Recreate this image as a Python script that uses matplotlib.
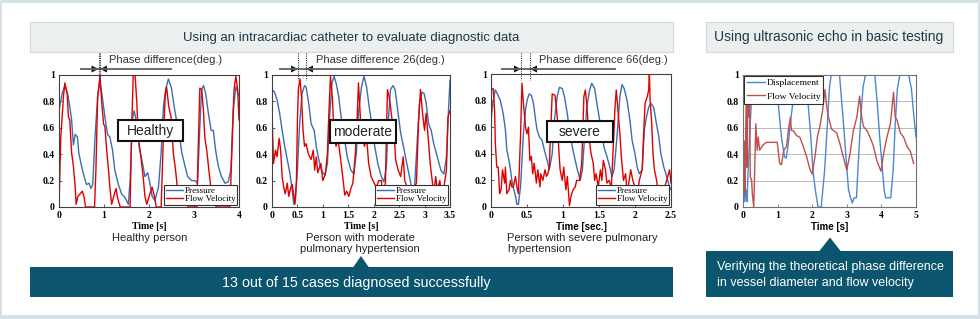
import matplotlib
matplotlib.use('Agg')
import matplotlib.pyplot as plt
from matplotlib.patches import Rectangle, Polygon
from matplotlib.lines import Line2D

W, H = 980, 319

# (time, normalised value)
HEALTHY_PRESSURE = [
    (0.00, 0.73), (0.07, 0.86), (0.13, 0.92), (0.19, 0.86), (0.24, 0.76), (0.28, 0.66),
    (0.32, 0.47), (0.36, 0.55), (0.41, 0.53), (0.44, 0.41), (0.50, 0.31), (0.56, 0.23),
    (0.61, 0.17), (0.67, 0.18), (0.71, 0.14), (0.75, 0.17), (0.80, 0.53), (0.86, 0.84),
    (0.91, 0.95), (0.96, 0.84), (1.02, 0.68), (1.08, 0.55), (1.13, 0.53), (1.19, 0.43),
    (1.24, 0.28), (1.32, 0.17), (1.39, 0.10), (1.47, 0.07), (1.54, 0.02), (1.58, 0.20),
    (1.63, 0.66), (1.67, 0.73), (1.73, 0.63), (1.78, 0.46), (1.84, 0.36), (1.91, 0.23),
    (1.97, 0.26), (2.02, 0.18), (2.07, 0.08), (2.13, 0.05), (2.21, 0.15), (2.27, 0.41),
    (2.32, 0.76), (2.37, 0.89), (2.43, 0.97), (2.50, 0.90), (2.56, 0.76), (2.61, 0.66),
    (2.67, 0.56), (2.73, 0.41), (2.80, 0.31), (2.86, 0.23), (2.95, 0.20), (3.02, 0.20),
    (3.08, 0.18), (3.13, 0.61), (3.17, 0.89), (3.21, 0.92), (3.26, 0.86), (3.32, 0.71),
    (3.38, 0.58), (3.43, 0.58), (3.48, 0.43), (3.54, 0.31), (3.61, 0.23), (3.69, 0.18),
    (3.76, 0.19), (3.82, 0.28), (3.87, 0.73), (3.93, 0.91), (4.00, 0.84),
]
HEALTHY_FLOW = [
    (0.00, 0.00), (0.04, 0.53), (0.10, 0.84), (0.13, 0.94), (0.18, 0.86), (0.21, 0.68),
    (0.24, 0.66), (0.28, 0.41), (0.32, 0.31), (0.36, 0.15), (0.38, 0.02), (0.42, 0.08),
    (0.47, 0.10), (0.52, 0.12), (0.56, 0.07), (0.59, 0.00), (0.79, 0.00), (0.82, 0.28),
    (0.86, 0.84), (0.91, 0.99), (0.95, 0.79), (0.99, 0.63), (1.02, 0.61), (1.06, 0.43),
    (1.10, 0.28), (1.13, 0.15), (1.17, 0.02), (1.23, 0.10), (1.27, 0.14), (1.30, 0.07),
    (1.36, 0.00), (1.58, 0.00), (1.62, 0.66), (1.65, 1.00), (1.69, 1.00), (1.73, 0.79),
    (1.76, 0.53), (1.82, 0.38), (1.87, 0.23), (1.91, 0.08), (1.95, 0.02), (2.02, 0.10),
    (2.07, 0.15), (2.12, 0.08), (2.16, 0.00), (2.27, 0.00), (2.32, 0.53), (2.36, 0.84),
    (2.39, 0.91), (2.44, 0.76), (2.49, 0.68), (2.54, 0.41), (2.59, 0.28), (2.65, 0.08),
    (2.69, 0.02), (2.76, 0.04), (2.82, 0.08), (2.87, 0.00), (3.06, 0.00), (3.10, 0.53),
    (3.13, 0.90), (3.17, 0.89), (3.21, 0.73), (3.24, 0.53), (3.29, 0.41), (3.33, 0.28),
    (3.39, 0.10), (3.45, 0.03), (3.50, 0.00), (3.80, 0.00), (3.84, 0.41), (3.89, 0.89),
    (3.93, 0.99), (3.97, 0.89), (4.00, 0.66),
]
MODERATE_PRESSURE = [
    (0.00, 0.89), (0.05, 0.87), (0.10, 0.81), (0.15, 0.71), (0.20, 0.58), (0.25, 0.46),
    (0.30, 0.36), (0.35, 0.26), (0.39, 0.15), (0.43, 0.02), (0.46, 0.05), (0.50, 0.28),
    (0.54, 0.61), (0.59, 0.86), (0.64, 0.92), (0.67, 0.91), (0.72, 0.79), (0.77, 0.63),
    (0.83, 0.58), (0.87, 0.46), (0.92, 0.36), (0.97, 0.28), (1.04, 0.24), (1.09, 0.33),
    (1.13, 0.66), (1.18, 0.94), (1.22, 0.99), (1.26, 0.94), (1.31, 0.84), (1.36, 0.68),
    (1.42, 0.53), (1.48, 0.38), (1.55, 0.28), (1.61, 0.25), (1.66, 0.41), (1.70, 0.71),
    (1.76, 0.91), (1.81, 0.99), (1.86, 0.91), (1.91, 0.76), (1.97, 0.61), (2.02, 0.46),
    (2.08, 0.33), (2.15, 0.23), (2.20, 0.19), (2.25, 0.31), (2.28, 0.61), (2.33, 0.89),
    (2.38, 0.92), (2.42, 0.89), (2.48, 0.71), (2.53, 0.56), (2.60, 0.43), (2.66, 0.31),
    (2.73, 0.18), (2.77, 0.03), (2.80, 0.13), (2.86, 0.53), (2.90, 0.79), (2.95, 0.87),
    (2.99, 0.86), (3.03, 0.79), (3.08, 0.63), (3.13, 0.58), (3.18, 0.48), (3.25, 0.38),
    (3.32, 0.28), (3.38, 0.25), (3.43, 0.38), (3.47, 0.73), (3.50, 0.96),
]
MODERATE_FLOW = [
    (0.00, 0.71), (0.03, 0.33), (0.07, 0.43), (0.10, 0.38), (0.14, 0.52), (0.17, 0.43),
    (0.20, 0.23), (0.23, 0.15), (0.26, 0.10), (0.30, 0.18), (0.33, 0.08), (0.37, 0.15),
    (0.40, 0.17), (0.45, 0.02), (0.48, 0.20), (0.50, 0.66), (0.52, 0.90), (0.55, 0.97),
    (0.58, 0.84), (0.61, 0.58), (0.64, 0.46), (0.67, 0.48), (0.71, 0.41), (0.74, 0.38),
    (0.77, 0.36), (0.81, 0.43), (0.84, 0.28), (0.87, 0.38), (0.90, 0.26), (0.96, 0.33),
    (1.00, 0.20), (1.05, 0.25), (1.09, 0.41), (1.12, 0.73), (1.15, 0.99), (1.19, 0.81),
    (1.22, 0.53), (1.26, 0.46), (1.30, 0.51), (1.35, 0.36), (1.40, 0.20), (1.43, 0.09),
    (1.47, 0.12), (1.51, 0.08), (1.55, 0.14), (1.59, 0.18), (1.64, 0.41), (1.68, 0.73),
    (1.70, 0.94), (1.74, 0.66), (1.78, 0.53), (1.82, 0.46), (1.86, 0.53), (1.90, 0.33),
    (1.95, 0.23), (2.01, 0.18), (2.05, 0.15), (2.10, 0.20), (2.15, 0.20), (2.18, 0.08),
    (2.23, 0.18), (2.27, 0.89), (2.30, 0.84), (2.33, 0.76), (2.37, 0.63), (2.40, 0.58),
    (2.43, 0.36), (2.48, 0.28), (2.53, 0.23), (2.58, 0.38), (2.61, 0.20), (2.66, 0.15),
    (2.71, 0.10), (2.84, 0.18), (2.88, 0.63), (2.92, 0.89), (2.96, 0.71), (3.00, 0.58),
    (3.03, 0.71), (3.07, 0.53), (3.11, 0.33), (3.15, 0.20), (3.18, 0.10), (3.22, 0.23),
    (3.25, 0.13), (3.30, 0.20), (3.33, 0.10), (3.38, 0.15), (3.43, 0.28), (3.46, 0.68),
    (3.50, 0.73),
]
SEVERE_PRESSURE = [
    (0.00, 0.65), (0.03, 0.80), (0.06, 0.88), (0.09, 0.85), (0.13, 0.80), (0.17, 0.70),
    (0.20, 0.58), (0.22, 0.43), (0.25, 0.35), (0.27, 0.28), (0.29, 0.20), (0.31, 0.15),
    (0.34, 0.08), (0.36, 0.02), (0.38, 0.02), (0.41, 0.15), (0.43, 0.35), (0.45, 0.55),
    (0.48, 0.73), (0.50, 0.80), (0.53, 0.85), (0.56, 0.84), (0.59, 0.78), (0.62, 0.65),
    (0.64, 0.58), (0.67, 0.53), (0.71, 0.50), (0.74, 0.43), (0.78, 0.35), (0.81, 0.28),
    (0.85, 0.40), (0.88, 0.65), (0.92, 0.83), (0.95, 0.90), (0.99, 0.89), (1.02, 0.83),
    (1.06, 0.70), (1.09, 0.58), (1.13, 0.45), (1.17, 0.35), (1.20, 0.28), (1.24, 0.20),
    (1.27, 0.28), (1.30, 0.53), (1.33, 0.75), (1.37, 0.88), (1.40, 0.93), (1.44, 0.89),
    (1.47, 0.78), (1.51, 0.65), (1.54, 0.55), (1.57, 0.45), (1.61, 0.38), (1.65, 0.30),
    (1.68, 0.23), (1.71, 0.28), (1.75, 0.53), (1.79, 0.83), (1.82, 0.92), (1.85, 0.89),
    (1.89, 0.80), (1.93, 0.65), (1.96, 0.50), (2.00, 0.40), (2.03, 0.30), (2.06, 0.25),
    (2.10, 0.28), (2.13, 0.58), (2.16, 0.68), (2.19, 0.75), (2.22, 0.78), (2.26, 0.75),
    (2.29, 0.65), (2.33, 0.53), (2.36, 0.40), (2.40, 0.30), (2.44, 0.23), (2.48, 0.15),
    (2.50, 0.13),
]
SEVERE_FLOW = [
    (0.00, 0.88), (0.03, 0.89), (0.05, 0.73), (0.06, 0.48), (0.08, 0.30), (0.10, 0.30),
    (0.12, 0.10), (0.14, 0.13), (0.16, 0.28), (0.19, 0.18), (0.20, 0.30), (0.22, 0.10),
    (0.25, 0.13), (0.27, 0.20), (0.29, 0.15), (0.31, 0.15), (0.34, 0.23), (0.36, 0.15),
    (0.38, 0.10), (0.41, 0.53), (0.43, 0.93), (0.45, 0.78), (0.48, 0.60), (0.50, 0.55),
    (0.52, 0.60), (0.54, 0.35), (0.56, 0.38), (0.58, 0.25), (0.60, 0.33), (0.63, 0.18),
    (0.65, 0.28), (0.68, 0.15), (0.69, 0.25), (0.72, 0.20), (0.75, 0.28), (0.77, 0.23),
    (0.79, 0.25), (0.81, 0.30), (0.82, 0.45), (0.85, 0.85), (0.89, 0.84), (0.92, 0.68),
    (0.94, 0.45), (0.96, 0.28), (0.99, 0.20), (1.01, 0.30), (1.04, 0.13), (1.06, 0.23),
    (1.09, 0.01), (1.11, 0.08), (1.14, 0.13), (1.17, 0.15), (1.19, 0.20), (1.23, 0.20),
    (1.26, 0.33), (1.29, 0.83), (1.31, 0.88), (1.33, 0.78), (1.36, 0.53), (1.39, 0.40),
    (1.42, 0.33), (1.44, 0.20), (1.46, 0.25), (1.49, 0.15), (1.52, 0.28), (1.54, 0.20),
    (1.56, 0.35), (1.59, 0.28), (1.61, 0.18), (1.64, 0.20), (1.67, 0.15), (1.69, 0.35),
    (1.72, 0.73), (1.74, 0.88), (1.76, 0.75), (1.79, 0.55), (1.81, 0.38), (1.84, 0.20),
    (1.87, 0.25), (1.89, 0.10), (1.92, 0.20), (1.94, 0.28), (1.97, 0.20), (2.00, 0.15),
    (2.04, 0.13), (2.06, 0.20), (2.10, 0.28), (2.12, 0.55), (2.14, 0.78), (2.17, 0.83),
    (2.19, 0.88), (2.20, 1.00), (2.21, 0.80), (2.23, 0.65), (2.25, 0.40), (2.27, 0.28),
    (2.30, 0.20), (2.33, 0.08), (2.40, 0.13), (2.44, 0.20), (2.48, 0.28), (2.50, 0.18),
]
ECHO_DISPLACEMENT = [
    (0.00, 0.41), (0.03, 0.20), (0.05, 0.04), (0.09, 0.13), (0.12, 0.04), (0.14, 0.23),
    (0.19, 0.53), (0.24, 0.79), (0.29, 1.00), (0.85, 1.00), (1.01, 0.81), (1.11, 0.53),
    (1.20, 0.38), (1.25, 0.37), (1.30, 0.46), (1.38, 0.66), (1.45, 0.81), (1.49, 0.91),
    (1.54, 1.00), (1.80, 1.00), (1.88, 0.79), (1.96, 0.53), (2.02, 0.28), (2.09, 0.13),
    (2.15, 0.03), (2.17, 0.00), (2.26, 0.00), (2.36, 0.28), (2.44, 0.63), (2.50, 0.91),
    (2.55, 1.00), (2.79, 1.00), (2.84, 0.84), (2.92, 0.58), (2.99, 0.33), (3.05, 0.13),
    (3.11, 0.07), (3.16, 0.03), (3.21, 0.07), (3.28, 0.07), (3.32, 0.28), (3.40, 0.66),
    (3.47, 0.91), (3.54, 1.00), (3.81, 1.00), (3.88, 0.79), (3.95, 0.53), (4.02, 0.31),
    (4.08, 0.13), (4.12, 0.07), (4.27, 0.07), (4.34, 0.28), (4.40, 0.63), (4.46, 0.89),
    (4.53, 1.00), (4.79, 1.00), (4.87, 0.89), (4.93, 0.71), (5.00, 0.53),
]
ECHO_FLOW = [
    (0.00, 0.45), (0.02, 0.25), (0.04, 0.50), (0.06, 0.10), (0.08, 0.60), (0.10, 0.89),
    (0.12, 0.30), (0.14, 0.95), (0.17, 0.68), (0.19, 1.00), (0.21, 0.23), (0.25, 0.20),
    (0.27, 0.10), (0.31, 0.00), (0.34, 0.30), (0.37, 0.63), (0.41, 0.43), (0.44, 0.53),
    (0.48, 0.43), (0.58, 0.47), (0.68, 0.49), (0.99, 0.49), (1.06, 0.33), (1.11, 0.32),
    (1.18, 0.43), (1.26, 0.46), (1.31, 0.58), (1.37, 0.68), (1.40, 0.58), (1.45, 0.58),
    (1.55, 0.54), (1.64, 0.53), (1.74, 0.46), (1.84, 0.38), (1.93, 0.29), (2.00, 0.25),
    (2.08, 0.38), (2.15, 0.53), (2.22, 0.61), (2.30, 0.73), (2.37, 0.89), (2.42, 0.76),
    (2.47, 0.68), (2.56, 0.59), (2.61, 0.58), (2.71, 0.56), (2.80, 0.48), (2.90, 0.38),
    (3.00, 0.28), (3.09, 0.40), (3.19, 0.58), (3.29, 0.68), (3.37, 0.84), (3.43, 0.68),
    (3.48, 0.61), (3.58, 0.58), (3.67, 0.53), (3.77, 0.46), (3.87, 0.35), (3.99, 0.27),
    (4.06, 0.40), (4.16, 0.53), (4.26, 0.63), (4.35, 0.87), (4.40, 0.68), (4.45, 0.66),
    (4.55, 0.56), (4.64, 0.53), (4.74, 0.46), (4.84, 0.42), (4.93, 0.33),
]

Y_TICKS = [0, 0.2, 0.4, 0.6, 0.8, 1]
Y_TICK_LABELS = ['0', '0.2', '0.4', '0.6', '0.8', '1']
HEALTHY_XTICKS = [0, 1, 2, 3, 4]
MODERATE_XTICKS = [0, 0.5, 1, 1.5, 2, 2.5, 3, 3.5]
SEVERE_XTICKS = [0, 0.5, 1, 1.5, 2, 2.5]
ECHO_XTICKS = [0, 1, 2, 3, 4, 5]

SANS = ['Liberation Sans', 'DejaVu Sans']
SERIF = ['Liberation Serif', 'DejaVu Serif']

BLUE = '#3c6eae'
RED = '#e00000'
ECHO_BLUE = '#4a89d0'
ECHO_RED = '#c0504d'
TEAL = '#0b566e'


def px_axes(fig, x0, y0, x1, y1):
    return fig.add_axes([x0 / W, 1 - y1 / H, (x1 - x0) / W, (y1 - y0) / H])


def style_axes(ax, xticks, xmax, spine='#404040'):
    ax.set_xlim(0, xmax)
    ax.set_ylim(0, 1)
    ax.set_xticks(xticks)
    ax.set_xticklabels(['{:g}'.format(t) for t in xticks])
    ax.set_yticks(Y_TICKS)
    ax.set_yticklabels(Y_TICK_LABELS)
    ax.tick_params(direction='in', length=2, width=0.6, labelsize=7, pad=3, color=spine)
    for lbl in ax.get_xticklabels() + ax.get_yticklabels():
        lbl.set_fontfamily(SERIF)
        lbl.set_fontweight('bold')
    for s in ax.spines.values():
        s.set_color(spine)
        s.set_linewidth(0.8)


def draw_curve(ax, pairs, color, label):
    t = [p[0] for p in pairs]
    v = [p[1] for p in pairs]
    ax.plot(t, v, color=color, lw=1.0, label=label)


fig = plt.figure(figsize=(W / 100, H / 100), dpi=100)
fig.patch.set_facecolor('#d6e1e5')

# Background panels
bg = fig.add_axes([0, 0, 1, 1])
bg.set_xlim(0, W)
bg.set_ylim(H, 0)
bg.axis('off')
bg.add_patch(Rectangle((2, 3), 976, 312, fc='white', ec='none'))
bg.add_patch(Rectangle((30, 22), 643, 30, fc='#ebefef', ec='#d3dadc', lw=0.8))
bg.add_patch(Rectangle((706, 22), 247, 30, fc='#ebefef', ec='#d3dadc', lw=0.8))
bg.text(351, 37.5, 'Using an intracardiac catheter to evaluate diagnostic data',
        ha='center', va='center', fontsize=9.5, color='#1f3a46', family=SANS)
bg.text(829, 37.5, 'Using ultrasonic echo in basic testing',
        ha='center', va='center', fontsize=10, color='#1f3a46', family=SANS)
bg.add_patch(Rectangle((30, 267), 643, 30, fc=TEAL, ec='none'))
bg.add_patch(Polygon([(353, 267.5), (361, 256), (369, 267.5)], fc=TEAL, ec='none'))
bg.text(356, 283, '13 out of 15 cases diagnosed successfully',
        ha='center', va='center', fontsize=10.3, color='white', family=SANS)
bg.add_patch(Rectangle((706, 251), 247, 46, fc=TEAL, ec='none'))
bg.add_patch(Polygon([(819, 251.5), (830, 237.5), (841, 251.5)], fc=TEAL, ec='none'))
bg.text(717, 267, 'Verifying the theoretical phase difference',
        ha='left', va='center', fontsize=9, color='white', family=SANS)
bg.text(717, 283, 'in vessel diameter and flow velocity',
        ha='left', va='center', fontsize=9, color='white', family=SANS)

# Catheter charts
charts = [
    ((59, 75, 239, 207), HEALTHY_PRESSURE, HEALTHY_FLOW, HEALTHY_XTICKS, 4, 'Time [s]', SERIF),
    ((272, 75, 450, 207), MODERATE_PRESSURE, MODERATE_FLOW, MODERATE_XTICKS, 3.5, 'Time [s]', SERIF),
    ((491, 74, 671, 207), SEVERE_PRESSURE, SEVERE_FLOW, SEVERE_XTICKS, 2.5, 'Time [sec.]', SANS),
]
for box, pres, flow, xt, xmax, xlabel, xfam in charts:
    ax = px_axes(fig, *box)
    draw_curve(ax, pres, BLUE, 'Pressure')
    draw_curve(ax, flow, RED, 'Flow Velocity')
    style_axes(ax, xt, xmax)
    ax.set_xlabel(xlabel, fontsize=7, fontweight='bold', family=xfam, labelpad=1.5)
    leg = ax.legend(loc='lower right', bbox_to_anchor=(1.0, 0.0), borderaxespad=0.25,
                    fancybox=False, framealpha=1, edgecolor='#303030',
                    prop={'family': SERIF, 'size': 6.5}, handlelength=1.9,
                    handletextpad=0.2, labelspacing=0.0, borderpad=0.15)
    leg.get_frame().set_linewidth(0.8)

# Echo chart
ax = px_axes(fig, 743, 75, 916, 207)
ax.yaxis.grid(True, color='#b8b8b8', lw=0.7)
ax.set_axisbelow(True)
draw_curve(ax, ECHO_DISPLACEMENT, ECHO_BLUE, 'Displacement')
draw_curve(ax, ECHO_FLOW, ECHO_RED, 'Flow Velocity')
style_axes(ax, ECHO_XTICKS, 5, spine='#707070')
ax.tick_params(axis='y', length=0)
ax.set_xlabel('Time [s]', fontsize=7, fontweight='bold', family=SANS, labelpad=1.5)
leg = ax.legend(loc='upper left', bbox_to_anchor=(0.0, 1.0), borderaxespad=0.1,
                fancybox=False, framealpha=1, edgecolor='#303030',
                prop={'family': SERIF, 'size': 6.8}, handlelength=1.9,
                handletextpad=0.2, labelspacing=0.5, borderpad=0.3)
leg.get_frame().set_linewidth(0.8)

# Overlay annotations
ov = fig.add_axes([0, 0, 1, 1])
ov.set_xlim(0, W)
ov.set_ylim(H, 0)
ov.axis('off')
ov.patch.set_alpha(0)


def phase_marker(x_from, x_to, tips, text_x, text):
    y = 69
    ov.plot([x_from, x_to], [y, y], color='#606060', lw=1.3, solid_capstyle='butt')
    for xl in sorted(set(tips)):
        ov.add_line(Line2D([xl, xl], [53, 80], color='#333333', lw=0.8, ls=(0, (1, 1))))
    left, right = tips[0], tips[-1]
    ov.add_patch(Polygon([(left - 7, y - 3.5), (left, y), (left - 7, y + 3.5)], fc='#111111', ec='none'))
    ov.add_patch(Polygon([(right + 7, y - 3.5), (right, y), (right + 7, y + 3.5)], fc='#111111', ec='none'))
    ov.text(text_x, 60, text, ha='left', va='center', fontsize=8, color='#333333', family=SANS)


phase_marker(80, 172, [98.5, 100], 109, 'Phase difference(deg.)')
phase_marker(279, 393, [298, 306], 316, 'Phase difference 26(deg.)')
phase_marker(501, 616, [521, 530], 539, 'Phase difference 66(deg.)')

for (x0, y0, x1, y1), label in [((118, 120, 183, 141), 'Healthy'),
                                ((330, 120, 396, 143), 'moderate'),
                                ((547, 121, 613, 142), 'severe')]:
    ov.add_patch(Rectangle((x0, y0), x1 - x0, y1 - y0, fc='white', ec='#111111', lw=1.5))
    ov.text((x0 + x1) / 2, (y0 + y1) / 2 + 0.5, label, ha='center', va='center',
            fontsize=10, color='#222222', family=SANS)

ov.text(150, 238, 'Healthy person', ha='center', va='center', fontsize=8, color='#222222', family=SANS)
ov.text(360, 238, 'Person with moderate', ha='center', va='center', fontsize=8, color='#222222', family=SANS)
ov.text(360, 248.5, 'pulmonary hypertension', ha='center', va='center', fontsize=8, color='#222222', family=SANS)
ov.text(507, 238, 'Person with severe pulmonary', ha='left', va='center', fontsize=8, color='#222222', family=SANS)
ov.text(507, 248.5, 'hypertension', ha='left', va='center', fontsize=8, color='#222222', family=SANS)

fig.savefig('out.png', dpi=100, facecolor=fig.get_facecolor())
